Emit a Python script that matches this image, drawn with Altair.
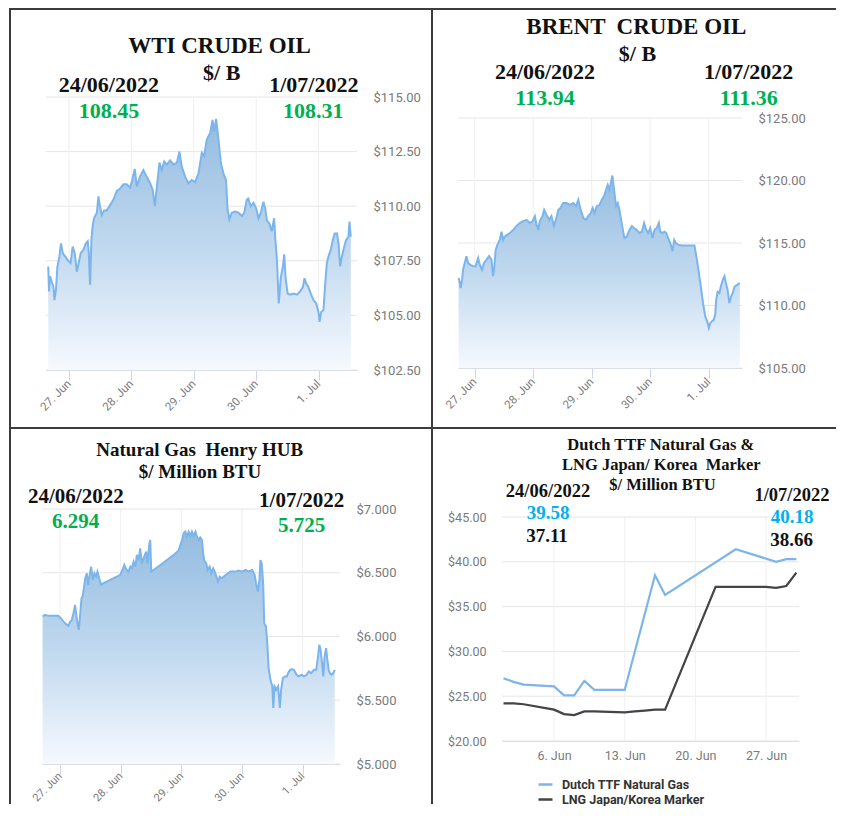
import altair as alt
import pandas as pd

# ---------------- data ----------------
DAY_TICKS_H = [0, 24, 48, 72, 96]          # hours after 27 Jun 00:00
DAY_LABELS = ["27. Jun", "28. Jun", "29. Jun", "30. Jun", "1. Jul"]

WTI_H = [-8.0, -7.7, -7.3, -6.7, -6.0, -5.6, -5.0, -4.5, -3.7, -3.1,
         -2.4, -1.5, -0.3, 0.6, 1.4, 2.2, 3.0, 3.7, 4.5, 5.5,
         6.5, 7.2, 7.6, 8.1, 8.6, 9.1, 9.6, 10.7, 11.3, 11.9,
         12.6, 13.5, 14.5, 15.8, 17.1, 18.4, 19.6, 20.9, 22.2, 23.5,
         24.3, 25.3, 26.1, 27.3, 28.6, 29.9, 31.2, 32.2, 33.0, 33.8,
         34.8, 35.7, 36.6, 37.6, 38.9, 40.2, 41.5, 42.5, 43.4, 44.7,
         45.9, 47.2, 48.5, 49.8, 51.1, 52.0, 53.0, 54.3, 55.2, 55.8,
         56.6, 57.5, 58.4, 59.4, 60.4, 61.0, 61.7, 62.6, 63.9, 65.2,
         66.5, 67.4, 68.4, 69.0, 69.9, 71.0, 72.0, 72.9, 73.8, 74.8,
         75.5, 76.1, 77.1, 78.0, 78.9, 79.4, 80.0, 80.7, 81.5, 82.3,
         82.8, 83.3, 84.1, 85.1, 86.4, 87.7, 88.9, 90.0, 90.6, 91.3,
         92.1, 93.0, 94.1, 95.1, 96.0, 96.4, 97.0, 97.9, 98.6, 99.2,
         99.8, 100.7, 101.5, 102.2, 103.1, 103.7, 104.3, 105.0, 105.9, 106.6,
         107.5, 107.9, 108.4]
WTI_V = [107.24, 106.1, 106.8, 106.55, 106.3, 105.7, 106.2, 107.2, 107.7, 108.3,
         107.85, 107.7, 107.5, 107.4, 108.15, 107.85, 107.0, 107.4, 107.85, 108.0,
         108.3, 108.4, 107.85, 106.4, 108.45, 109.1, 109.45, 109.7, 110.45, 110.0,
         109.6, 109.8, 109.8, 110.05, 110.3, 110.7, 110.8, 111.0, 111.0, 110.85,
         111.2, 111.7, 110.9, 111.35, 111.65, 111.35, 111.05, 110.75, 110.0, 110.9,
         112.0, 111.65, 112.05, 111.9, 112.1, 111.9, 112.0, 112.5, 111.8, 111.35,
         111.05, 111.2, 111.1, 111.5, 112.45, 112.3, 113.05, 113.35, 113.95, 113.4,
         114.0, 113.05, 112.0, 111.5, 111.2, 109.85, 109.4, 109.7, 109.75, 109.7,
         109.55, 109.7, 110.3, 110.35, 110.0, 110.15, 109.9, 109.45, 109.7, 110.2,
         109.9, 109.35, 109.2, 108.85, 109.45, 108.45, 107.55, 105.55, 106.75, 107.25,
         107.8, 106.75, 106.0, 105.95, 106.0, 105.95, 106.1, 106.3, 106.7, 106.45,
         106.3, 106.0, 105.7, 105.55, 105.15, 104.7, 105.15, 105.25, 106.5, 107.4,
         107.7, 108.0, 108.45, 108.75, 108.75, 108.3, 107.25, 107.7, 108.15, 108.45,
         108.6, 109.3, 108.6]

BRENT_H = [-6.6, -6.2, -5.8, -5.2, -4.8, -4.1, -3.4, -2.7, -1.8, -0.7,
           0.4, 1.4, 2.1, 3.0, 3.8, 4.8, 5.9, 6.9, 7.5, 7.95,
           8.6, 9.3, 10.3, 11.0, 11.7, 12.3, 13.3, 14.4, 15.8, 17.1,
           18.5, 19.9, 21.3, 22.6, 23.7, 24.7, 25.4, 26.1, 26.7, 27.8,
           28.5, 29.5, 30.6, 31.5, 32.5, 33.3, 34.3, 35.2, 36.3, 37.7,
           39.1, 40.5, 41.6, 42.5, 43.5, 44.6, 45.7, 46.6, 47.6, 48.4,
           49.1, 50.1, 51.2, 52.1, 53.1, 53.9, 54.6, 55.3, 56.0, 56.5,
           57.2, 58.0, 58.7, 59.4, 60.1, 60.8, 61.4, 62.4, 63.5, 64.5,
           65.4, 66.5, 67.6, 68.6, 69.5, 70.4, 71.2, 72.0, 73.0, 73.8,
           74.7, 75.6, 76.1, 77.1, 77.9, 78.6, 79.1, 79.7, 80.5, 81.2,
           81.9, 82.7, 83.7, 85.0, 87.8, 90.2, 91.2, 92.6, 93.7, 94.6,
           95.6, 96.1, 96.7, 97.4, 98.1, 98.7, 99.1, 99.7, 100.4, 101.0,
           101.8, 102.5, 103.1, 103.8, 104.5, 105.2, 105.9, 106.6, 107.7, 108.8]
BRENT_V = [112.2, 111.9, 111.4, 112.05, 112.85, 113.4, 113.95, 113.4, 113.25, 113.15,
           113.15, 113.8, 113.25, 112.85, 113.4, 113.65, 113.95, 113.65, 112.35, 112.85,
           114.45, 114.85, 115.25, 115.9, 115.25, 115.5, 115.65, 115.8, 116.05, 116.35,
           116.6, 116.75, 116.85, 116.6, 116.75, 117.15, 116.45, 116.05, 116.75, 117.15,
           117.65, 117.25, 116.85, 117.15, 116.35, 116.85, 117.65, 117.8, 118.2, 118.2,
           118.05, 118.2, 117.95, 118.45, 117.65, 117.0, 116.85, 117.15, 117.4, 117.8,
           117.4, 117.95, 118.05, 118.45, 118.75, 119.25, 119.65, 119.25, 119.95, 120.4,
           119.25, 117.95, 118.2, 117.65, 116.85, 116.05, 115.4, 115.5, 116.05, 116.35,
           116.2, 116.05, 115.8, 115.9, 116.6, 116.05, 115.8, 116.2, 115.4, 116.05,
           116.2, 116.6, 115.9, 115.8, 115.9, 115.8, 115.5, 115.25, 114.85, 114.35,
           115.25, 114.95, 114.85, 114.8, 114.8, 114.8, 113.65, 111.8, 110.2, 109.15,
           108.6, 108.2, 108.6, 108.75, 108.85, 109.25, 110.45, 111.1, 111.0, 111.5,
           112.05, 112.35, 111.8, 111.25, 110.2, 110.7, 111.0, 111.5, 111.65, 111.8]

HH_H = [-6.9, -6.0, -4.6, -2.6, -0.7, 0.3, 1.3, 2.4, 3.3, 4.0,
        4.6, 5.3, 5.95, 6.3, 6.9, 7.4, 7.9, 8.5, 9.0, 9.5,
        10.0, 10.6, 11.1, 11.6, 12.3, 12.96, 13.6, 14.3, 14.8, 15.5,
        16.3, 17.2, 18.5, 19.8, 21.2, 22.5, 23.8, 24.7, 25.4, 26.2,
        27.1, 27.8, 28.4, 29.1, 29.8, 30.4, 31.1, 31.7, 32.4, 33.3,
        34.1, 34.6, 35.3, 35.7, 36.1, 37.0, 39.7, 42.3, 45.0, 46.9,
        47.6, 48.3, 48.9, 49.6, 50.2, 50.9, 51.6, 52.2, 52.9, 53.6,
        54.2, 54.9, 55.5, 56.2, 56.6, 57.1, 57.9, 58.4, 59.2, 59.9,
        60.6, 61.2, 61.9, 62.5, 63.2, 64.1, 65.5, 67.4, 69.4, 70.7,
        72.0, 73.4, 74.7, 76.0, 77.0, 77.6, 78.3, 78.9, 79.3, 79.8,
        80.4, 80.8, 81.5, 82.0, 82.6, 83.3, 84.0, 84.4, 84.9, 85.6,
        86.3, 87.0, 87.5, 88.2, 89.0, 89.7, 90.6, 91.5, 92.6, 93.6,
        94.5, 95.6, 96.5, 97.6, 98.5, 99.4, 100.5, 101.4, 102.1, 102.6,
        103.1, 103.7, 104.2, 104.7, 105.3, 105.8, 106.3, 106.8, 107.5, 108.2,
        108.7]
HH_V = [6.157, 6.170, 6.162, 6.162, 6.162, 6.144, 6.118, 6.097, 6.084, 6.118,
        6.125, 6.183, 6.248, 6.188, 6.104, 6.052, 6.157, 6.300, 6.319, 6.392,
        6.457, 6.496, 6.405, 6.470, 6.548, 6.444, 6.496, 6.470, 6.509, 6.457,
        6.405, 6.418, 6.431, 6.444, 6.457, 6.470, 6.483, 6.522, 6.561, 6.527,
        6.509, 6.548, 6.535, 6.587, 6.548, 6.640, 6.600, 6.692, 6.574, 6.627,
        6.666, 6.574, 6.718, 6.757, 6.509, 6.522, 6.561, 6.600, 6.640, 6.674,
        6.718, 6.757, 6.809, 6.822, 6.783, 6.822, 6.789, 6.822, 6.789, 6.822,
        6.783, 6.757, 6.778, 6.757, 6.653, 6.595, 6.574, 6.522, 6.548, 6.496,
        6.535, 6.509, 6.470, 6.431, 6.470, 6.457, 6.483, 6.509, 6.509, 6.517,
        6.509, 6.522, 6.509, 6.522, 6.483, 6.418, 6.352, 6.444, 6.600, 6.574,
        6.418, 6.104, 6.078, 5.948, 5.739, 5.661, 5.608, 5.439, 5.608, 5.582,
        5.608, 5.439, 5.582, 5.674, 5.687, 5.687, 5.726, 5.744, 5.739, 5.700,
        5.687, 5.700, 5.687, 5.700, 5.726, 5.713, 5.739, 5.739, 5.843, 5.935,
        5.896, 5.791, 5.687, 5.843, 5.909, 5.817, 5.739, 5.713, 5.700, 5.713,
        5.739]

SERIES = ["Dutch TTF Natural Gas", "LNG Japan/Korea Marker"]
TTF_DAY = [1, 2, 3, 6, 7, 8, 9, 10, 13, 16, 17, 24, 28, 29, 30]
TTF_V = [27.0, 26.6, 26.3, 26.1, 25.1, 25.1, 26.7, 25.7, 25.7, 38.5, 36.3, 41.4, 40.0, 40.3, 40.3]
LNG_DAY = [1, 2, 3, 6, 7, 8, 9, 10, 13, 14, 15, 16, 17, 22, 23, 24, 27, 28, 29, 30]
LNG_V = [24.2, 24.2, 24.1, 23.5, 23.0, 22.9, 23.3, 23.3, 23.2, 23.3,
         23.4, 23.5, 23.5, 37.2, 37.2, 37.2, 37.2, 37.1, 37.3, 38.8]
JUNE_TICKS = [6, 13, 20, 27]
JUNE_LABELS = ["6. Jun", "13. Jun", "20. Jun", "27. Jun"]

WTI_TEXT = ["WTI CRUDE OIL", "$/ B", "24/06/2022", "108.45", "1/07/2022", "108.31"]
BRENT_TEXT = ["BRENT  CRUDE OIL", "$/ B", "24/06/2022", "113.94", "1/07/2022", "111.36"]
HH_TEXT = ["Natural Gas  Henry HUB", "$/ Million BTU", "24/06/2022", "6.294", "1/07/2022", "5.725"]
TTF_TEXT = ["Dutch TTF Natural Gas &", "LNG Japan/ Korea  Marker", "$/ Million BTU",
            "24/06/2022", "39.58", "37.11", "1/07/2022", "40.18", "38.66"]

# ---------------- styles ----------------
SERIF = "Liberation Serif"
SANS = "Roboto"
LINE_BLUE = "#7cb5ec"
LNG_GRAY = "#434348"
GREEN = "#00b050"
CYAN = "#00b0f0"
BLACK = "#111111"
AXIS_LINE = "#ccd6eb"
LABEL = "#7a7a7a"
FRAME = "#3c3c3c"
HGRID = "#e6e6e6"
VGRID = "#efefef"

GRAD = alt.Gradient(
    gradient="linear",
    stops=[alt.GradientStop(color="#94bce0", offset=0),
           alt.GradientStop(color="#c4dbf0", offset=0.55),
           alt.GradientStop(color="#f6f9fe", offset=1)],
    x1=1, x2=1, y1=0, y2=1)

ONE = pd.DataFrame({"k": [0]})


def frame_layers(cw, ch, lw, tw, rw, bw):
    """Cell frame (view == cell); thin filled rects form the borders."""
    out = [alt.Chart(ONE).mark_rect(opacity=0).encode(
        x=alt.value(0), x2=alt.value(cw), y=alt.value(0), y2=alt.value(ch))]
    sides = []
    if lw:
        sides.append((0, lw, 0, ch))
    if tw:
        sides.append((0, cw, 0, tw))
    if rw:
        sides.append((cw - rw, cw, 0, ch))
    if bw:
        sides.append((0, cw, ch - bw, ch))
    for a, b, c, d in sides:
        out.append(alt.Chart(ONE).mark_rect(color=FRAME).encode(
            x=alt.value(a), x2=alt.value(b), y=alt.value(c), y2=alt.value(d)))
    return out


def text_layer(s, x, y, size, color=BLACK):
    shown = s.replace("  ", " \u00a0")
    return alt.Chart(pd.DataFrame({"t": [shown]})).mark_text(
        font=SERIF, fontSize=size, fontWeight="bold", color=color,
        align="center", baseline="middle").encode(
        x=alt.value(x), y=alt.value(y), text="t:N")


def hour_axis(offset, size=11.5, pad=2):
    expr = "[" + ",".join(repr(s) for s in DAY_LABELS) + "][round(datum.value / 24)]"
    return alt.Axis(values=DAY_TICKS_H, labelExpr=expr, labelAngle=-45, offset=offset,
                    labelAlign="right", labelBaseline="middle", labelPadding=pad,
                    tickSize=10, tickColor=AXIS_LINE, domainColor=AXIS_LINE,
                    grid=False, labelFont=SANS, labelFontSize=size,
                    labelColor=LABEL, title=None, labelOverlap=False, labelFlush=False)


def value_axis(orient, ticks, fmt, offset, size=13):
    return alt.Axis(orient=orient, values=ticks, format=fmt, ticks=False, domain=False,
                    offset=offset, labelPadding=16, grid=False, labelFont=SANS,
                    labelFontSize=size, labelColor=LABEL, title=None,
                    labelBaseline="middle", labelOverlap=False, labelFlush=False)


def grid_layers(xs, xax, xticks, xdom, ys, yax, yticks, ydom):
    hdf = pd.DataFrame({"gv": yticks, "gx0": xdom[0], "gx1": xdom[1]})
    vdf = pd.DataFrame({"gx": xticks, "gy0": ydom[0], "gy1": ydom[1]})
    h = alt.Chart(hdf).mark_rule(color=HGRID, strokeWidth=1).encode(
        y=alt.Y("gv:Q", scale=ys, axis=yax),
        x=alt.X("gx0:Q", scale=xs, axis=xax), x2="gx1:Q")
    v = alt.Chart(vdf).mark_rule(color=VGRID, strokeWidth=1).encode(
        x=alt.X("gx:Q", scale=xs, axis=xax),
        y=alt.Y("gy0:Q", scale=ys, axis=yax), y2="gy1:Q")
    return [h, v]


def intraday(hours, values, xdom, ydom, yticks, fmt, cw, ch, L, R, T, B, xsize=11.5, xpad=2):
    n = min(len(hours), len(values))
    df = pd.DataFrame({"h": hours[:n], "v": values[:n]})
    xs = alt.Scale(domain=xdom, range=[L, R], nice=False, zero=False)
    ys = alt.Scale(domain=ydom, range=[B, T], nice=False, zero=False)
    xax = hour_axis(B - ch, xsize, xpad)
    yax = value_axis("right", yticks, fmt, R - cw)
    x = alt.X("h:Q", scale=xs, axis=xax)
    y = alt.Y("v:Q", scale=ys, axis=yax)
    area = alt.Chart(df).mark_area(color=GRAD).encode(x=x, y=y, y2=alt.datum(ydom[0]))
    line = alt.Chart(df).mark_line(color=LINE_BLUE, strokeWidth=2).encode(x=x, y=y)
    return grid_layers(xs, xax, DAY_TICKS_H, xdom, ys, yax, yticks, ydom) + [area, line]


# cell sizes (kept small enough that the page never overflows the window)
LEFT_W, RIGHT_W = 423, 404
TOP_H, BOT_H = 420, 376

# ---------------- WTI ----------------
wti = alt.layer(
    *frame_layers(LEFT_W, TOP_H, 2, 2, 1, 1),
    *intraday(WTI_H, WTI_V, [-8.86, 110.8], [102.5, 115],
              [102.5, 105, 107.5, 110, 112.5, 115], "$,.2f", LEFT_W, TOP_H, 37, 348, 89, 362),
    text_layer(WTI_TEXT[0], 210.5, 38, 23),
    text_layer(WTI_TEXT[1], 212.7, 64.5, 22),
    text_layer(WTI_TEXT[2], 99.8, 77, 22),
    text_layer(WTI_TEXT[3], 100, 102.8, 22, GREEN),
    text_layer(WTI_TEXT[4], 304.8, 77, 22),
    text_layer(WTI_TEXT[5], 304.3, 102.8, 22, GREEN),
).properties(width=LEFT_W, height=TOP_H)

# ---------------- Brent ----------------
brent = alt.layer(
    *frame_layers(RIGHT_W, TOP_H, 1, 2, 0, 1),
    *intraday(BRENT_H, BRENT_V, [-6.86, 109.7], [105, 125],
              [105, 110, 115, 120, 125], "$,.2f", RIGHT_W, TOP_H, 26, 310, 110, 360),
    text_layer(BRENT_TEXT[0], 204.3, 19.2, 23),
    text_layer(BRENT_TEXT[1], 205.5, 46.2, 22),
    text_layer(BRENT_TEXT[2], 113, 63.7, 22),
    text_layer(BRENT_TEXT[3], 113, 90, 22, GREEN),
    text_layer(BRENT_TEXT[4], 316.7, 63.7, 22),
    text_layer(BRENT_TEXT[5], 316.8, 90, 22, GREEN),
).properties(width=RIGHT_W, height=TOP_H)

# ---------------- Henry Hub ----------------
hh = alt.layer(
    *frame_layers(LEFT_W, BOT_H, 2, 1, 1, 0),
    *intraday(HH_H, HH_V, [-7.14, 110.8], [5, 7],
              [5.0, 5.5, 6.0, 6.5, 7.0], "$.3f", LEFT_W, BOT_H, 33, 331, 81, 336,
              xsize=11, xpad=0),
    text_layer(HH_TEXT[0], 190.7, 21.7, 19),
    text_layer(HH_TEXT[1], 191, 43.7, 19),
    text_layer(HH_TEXT[2], 66.8, 69, 21),
    text_layer(HH_TEXT[3], 66.5, 94, 21, GREEN),
    text_layer(HH_TEXT[4], 292.7, 73, 21),
    text_layer(HH_TEXT[5], 292.7, 98.3, 21, GREEN),
).properties(width=LEFT_W, height=BOT_H)

# ---------------- TTF / LNG ----------------
L4, R4, T4, B4 = 70, 367, 89, 313
gas = pd.concat([
    pd.DataFrame({"series": SERIES[0], "day": TTF_DAY, "v": TTF_V}),
    pd.DataFrame({"series": SERIES[1], "day": LNG_DAY, "v": LNG_V}),
])
june_expr = ("[" + ",".join(repr(s) for s in JUNE_LABELS) + "][indexof(["
             + ",".join(str(t) for t in JUNE_TICKS) + "], datum.value)]")
gxdom, gydom = [0.85, 30.26], [20, 45]
gyticks = [20, 25, 30, 35, 40, 45]
gxs = alt.Scale(domain=gxdom, range=[L4, R4], nice=False, zero=False)
gys = alt.Scale(domain=gydom, range=[B4, T4], nice=False, zero=False)
gxax = alt.Axis(values=JUNE_TICKS, labelExpr=june_expr, labelAngle=0, offset=B4 - BOT_H,
                ticks=False, domainColor=AXIS_LINE, grid=False, labelFont=SANS,
                labelFontSize=12.5, labelColor=LABEL, labelPadding=8, title=None,
                labelOverlap=False, labelFlush=False)
gyax = value_axis("left", gyticks, "$.2f", -L4, 12.5)
gas_lines = alt.Chart(gas).mark_line(strokeWidth=2.2).encode(
    x=alt.X("day:Q", scale=gxs, axis=gxax),
    y=alt.Y("v:Q", scale=gys, axis=gyax),
    color=alt.Color("series:N",
                    scale=alt.Scale(domain=SERIES, range=[LINE_BLUE, LNG_GRAY]),
                    legend=alt.Legend(orient="none", legendX=105, legendY=348, title=None,
                                      symbolType="stroke", symbolSize=196,
                                      symbolStrokeWidth=2.5, labelFont=SANS,
                                      labelFontSize=12.5, labelFontWeight="bold",
                                      labelColor="#333333", labelOffset=8,
                                      rowPadding=0, padding=0)),
    detail="series:N",
)
ttf = alt.layer(
    *frame_layers(RIGHT_W, BOT_H, 1, 1, 0, 0),
    *grid_layers(gxs, gxax, JUNE_TICKS, gxdom, gys, gyax, gyticks, gydom),
    gas_lines,
    text_layer(TTF_TEXT[0], 228.8, 17, 16.5),
    text_layer(TTF_TEXT[1], 229.3, 36.5, 16.5),
    text_layer(TTF_TEXT[2], 230.5, 56.5, 16.5),
    text_layer(TTF_TEXT[3], 116, 63, 18.5),
    text_layer(TTF_TEXT[4], 116, 84.7, 19, CYAN),
    text_layer(TTF_TEXT[5], 115, 107.5, 19),
    text_layer(TTF_TEXT[6], 360, 66.5, 18.5),
    text_layer(TTF_TEXT[7], 360, 89, 19, CYAN),
    text_layer(TTF_TEXT[8], 359.7, 112, 19),
).properties(width=RIGHT_W, height=BOT_H)

chart = alt.concat(wti, brent, hh, ttf, columns=2, spacing=0).resolve_scale(
    color="independent", x="independent", y="independent"
).resolve_legend(color="independent").properties(
    padding={"left": 1, "top": 0, "right": 0, "bottom": 0},
    background="white",
).configure_view(stroke=None)

chart.save("out.html", embed_options={"renderer": "svg", "actions": False})
